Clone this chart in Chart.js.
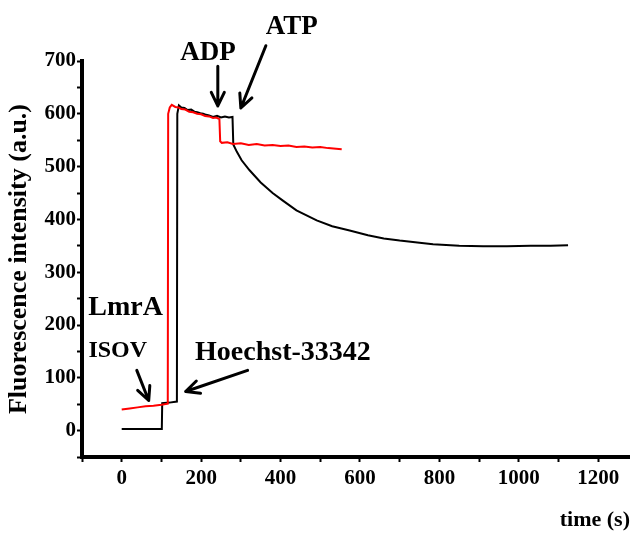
<!DOCTYPE html>
<html>
<head>
<meta charset="utf-8">
<script src="https://cdn.jsdelivr.net/npm/chart.js@4.4.1/dist/chart.umd.min.js"></script>
<style>
  html, body { margin: 0; padding: 0; background: #fff; }
  #wrap { width: 630px; height: 534px; }
</style>
</head>
<body>
<div id="wrap"><canvas id="chart" width="630" height="534"></canvas></div>
<script>
// ── Data ──
// Black trace (LmrA ISOV + Hoechst, then ATP)
const blackTime = [0, 20, 40, 60, 80, 101, 102, 120, 139, 140, 144, 150, 158, 166, 175, 183, 190, 198, 205, 213,
  220, 230, 240, 250, 260, 270, 279,
  281, 290, 302, 322, 350, 380, 405, 440, 491, 530, 574, 620, 660, 700, 750, 784, 850, 910, 970, 1030, 1080, 1124];
const blackValue = [3, 3, 3, 3, 3, 3, 52, 53, 55, 600, 616, 612, 611, 607, 608, 604, 603, 601, 600, 598,
  597, 594, 596, 593, 595, 593, 594,
  542, 528, 512, 493, 470, 450, 436, 417, 398, 387, 379, 370, 364, 360, 356, 353, 350, 349, 349, 350, 350, 351];

// Red trace (then ADP)
const redTime = [0, 20, 40, 60, 80, 100, 116, 117, 121, 126, 135, 143, 150, 160, 170, 180, 190, 200, 210, 220,
  230, 238, 246, 248, 252, 266, 280, 300, 320, 340, 360, 380, 400, 420, 440, 460, 480, 500, 520, 540, 554];
const redValue = [40, 42, 44, 46, 47, 49, 51, 600, 612, 617, 613, 612, 609, 608, 604, 603, 600, 599, 596, 595,
  592, 593, 590, 548, 545, 546, 543, 544, 541, 543, 540, 541, 539, 540, 537, 538, 536, 537, 535, 534, 533];

// Axis ticks
const xTickValues = [-100, 0, 100, 200, 300, 400, 500, 600, 700, 800, 900, 1000, 1100, 1200];
const yTickValues = [-50, 0, 50, 100, 150, 200, 250, 300, 350, 400, 450, 500, 550, 600, 650, 700];

// Annotation texts and their anchors (data units)
const noteText = ["ADP", "ATP", "LmrA", "ISOV", "Hoechst-33342"];
const noteX = [217, 428, 10, -10, 406];
const noteY = [715, 765, 233, 152, 148];
const noteSize = [27, 27, 28, 24, 28];

// Arrows: tail -> tip (data units)
const arrowX0 = [242, 363, 38, 317];
const arrowY0 = [690, 729, 114, 114];
const arrowX1 = [242, 300, 68, 161];
const arrowY1 = [615, 611, 57, 74];

const FONT = "'Liberation Serif', 'Times New Roman', serif";

const toPoints = (xs, ys) => xs.map((x, i) => ({ x, y: ys[i] }));

// ── Arrow + label overlay ──
const notesPlugin = {
  id: "notes",
  afterDraw(chart) {
    const { ctx, scales: { x, y } } = chart;
    ctx.save();
    ctx.fillStyle = "#000";
    ctx.textAlign = "center";
    ctx.textBaseline = "middle";
    noteText.forEach((t, i) => {
      ctx.font = `bold ${noteSize[i]}px ${FONT}`;
      ctx.fillText(t, x.getPixelForValue(noteX[i]), y.getPixelForValue(noteY[i]));
    });

    ctx.strokeStyle = "#000";
    ctx.lineWidth = 3;
    ctx.lineCap = "round";
    ctx.lineJoin = "round";
    arrowX0.forEach((_, i) => {
      const x0 = x.getPixelForValue(arrowX0[i]), y0 = y.getPixelForValue(arrowY0[i]);
      const x1 = x.getPixelForValue(arrowX1[i]), y1 = y.getPixelForValue(arrowY1[i]);
      const a = Math.atan2(y1 - y0, x1 - x0);
      const head = 15, spread = 0.45;
      ctx.beginPath();
      ctx.moveTo(x0, y0);
      ctx.lineTo(x1, y1);
      ctx.moveTo(x1 - head * Math.cos(a - spread), y1 - head * Math.sin(a - spread));
      ctx.lineTo(x1, y1);
      ctx.lineTo(x1 - head * Math.cos(a + spread), y1 - head * Math.sin(a + spread));
      ctx.stroke();
    });
    ctx.restore();
  }
};

const tickFont = { family: FONT, size: 21, weight: "bold" };

new Chart(document.getElementById("chart"), {
  type: "line",
  data: {
    datasets: [
      {
        label: "red",
        data: toPoints(redTime, redValue),
        borderColor: "#ff0000",
        borderWidth: 2,
        pointRadius: 0,
        tension: 0
      },
      {
        label: "black",
        data: toPoints(blackTime, blackValue),
        borderColor: "#000000",
        borderWidth: 2,
        pointRadius: 0,
        tension: 0
      }
    ]
  },
  options: {
    responsive: false,
    animation: false,
    layout: { padding: { top: 61, right: 0, left: 0, bottom: 0 } },
    plugins: {
      legend: { display: false },
      tooltip: { enabled: false }
    },
    scales: {
      x: {
        type: "linear",
        min: -100,
        max: 1280,
        afterFit: (s) => { s.height = 77; },
        afterBuildTicks: (s) => { s.ticks = xTickValues.map((v) => ({ value: v })); },
        border: { display: true, color: "#000", width: 4 },
        grid: { drawOnChartArea: false, drawTicks: true, tickLength: 5, tickWidth: 2, tickColor: "#000" },
        ticks: {
          autoSkip: false,
          maxRotation: 0,
          padding: 4,
          color: "#000",
          font: tickFont,
          callback: (v) => (v >= 0 && v % 200 === 0 ? String(v) : "")
        },
        title: {
          display: true,
          text: "time (s)",
          align: "end",
          color: "#000",
          font: { family: FONT, size: 22, weight: "bold" },
          padding: { top: 14, bottom: 0 }
        }
      },
      y: {
        type: "linear",
        min: -50,
        max: 700,
        afterFit: (s) => { s.width = 82; },
        afterBuildTicks: (s) => { s.ticks = yTickValues.map((v) => ({ value: v })); },
        border: { display: true, color: "#000", width: 4 },
        grid: { drawOnChartArea: false, drawTicks: true, tickLength: 5, tickWidth: 2, tickColor: "#000" },
        ticks: {
          autoSkip: false,
          padding: 1,
          color: "#000",
          font: tickFont,
          callback: (v) => (v >= 0 && v % 100 === 0 ? String(v) : "")
        },
        title: {
          display: true,
          text: "Fluorescence intensity (a.u.)",
          color: "#000",
          font: { family: FONT, size: 26, weight: "bold" },
          padding: { top: 4, bottom: 0 }
        }
      }
    }
  },
  plugins: [notesPlugin]
});
</script>
</body>
</html>
